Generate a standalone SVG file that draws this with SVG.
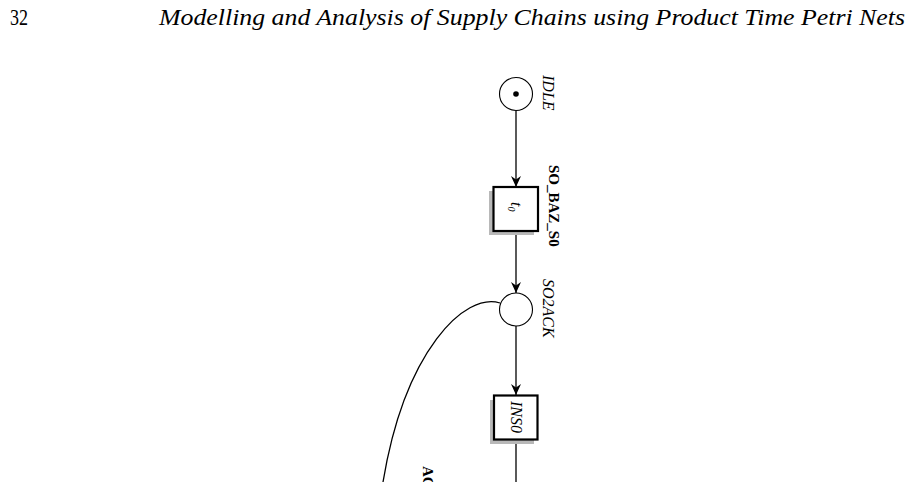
<svg xmlns="http://www.w3.org/2000/svg" width="919" height="482" viewBox="0 0 919 482">
<style>
.pl{fill:#fff;stroke:#000;stroke-width:1.1}
.tr{fill:#fff;stroke:#000;stroke-width:2.2}
.sh{fill:#b8b8b8;stroke:none}
.arc{fill:none;stroke:#000;stroke-width:1.3}
.it{font-family:"Liberation Serif",serif;font-style:italic;font-size:16px;fill:#000}
.bd{font-family:"Liberation Serif",serif;font-weight:bold;font-size:15px;fill:#000}
.hd{font-family:"Liberation Serif",serif;font-size:24px;fill:#000}
</style>
<defs>
<marker id="ah" viewBox="0 0 11 10" refX="11" refY="5" markerWidth="11" markerHeight="10" markerUnits="userSpaceOnUse" orient="auto">
<path d="M0,0 L11,5 L0,10 L3.5,5 Z" fill="#000"/>
</marker>
</defs>
<rect width="919" height="482" fill="#fff"/>
<text class="hd" x="10" y="25" textLength="18" lengthAdjust="spacingAndGlyphs">32</text>
<text class="hd" x="159" y="25" font-style="italic" textLength="746" lengthAdjust="spacingAndGlyphs">Modelling and Analysis of Supply Chains using Product Time Petri Nets</text>
<g id="connectors">
<line class="arc" x1="516" y1="111" x2="516" y2="187" marker-end="url(#ah)"/>
<line class="arc" x1="516" y1="232" x2="516" y2="293" marker-end="url(#ah)"/>
<line class="arc" x1="516" y1="326" x2="516" y2="395" marker-end="url(#ah)"/>
<line class="arc" x1="516" y1="440" x2="516" y2="482"/>
<path class="arc" d="M500,303 C465,292 405,350 383,482 L381,500"/>
</g>
<g id="IDLE">
<circle class="pl" cx="516" cy="94" r="16.5"/>
<circle cx="516" cy="94" r="2.8" fill="#000"/>
<text class="it" transform="translate(543,75) rotate(90)">IDLE</text>
</g>
<g id="t0">
<rect class="sh" x="489" y="191" width="45" height="44"/>
<rect class="tr" x="493.5" y="187" width="44.5" height="44"/>
<text class="it" font-size="15" transform="translate(510.5,202) rotate(90)">t<tspan font-size="10" dy="3">0</tspan></text>
<text class="bd" transform="translate(549,165) rotate(90)">SO_BAZ_S0</text>
</g>
<g id="SO2ACK">
<circle class="pl" cx="516" cy="309.5" r="16.5"/>
<text class="it" transform="translate(543,279) rotate(90)">SO2ACK</text>
</g>
<g id="INS0">
<rect class="sh" x="490" y="400" width="44" height="44"/>
<rect class="tr" x="494" y="395.5" width="43.5" height="44"/>
<text class="it" font-size="15" text-anchor="middle" transform="translate(510.5,417) rotate(90)">INS0</text>
</g>
<g id="ACK">
<text class="bd" transform="translate(423,466) rotate(90)">AC</text>
</g>
</svg>
